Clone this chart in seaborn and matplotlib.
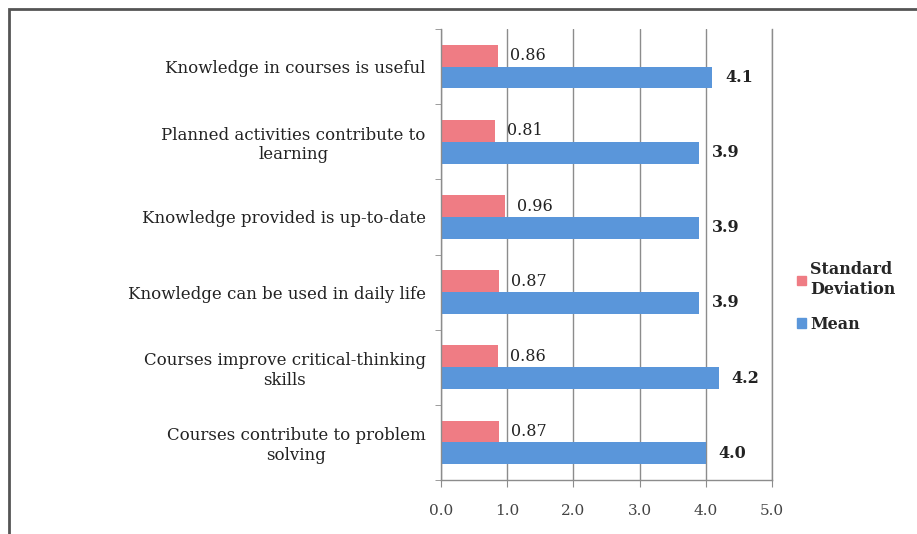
import pandas as pd
import matplotlib.pyplot as plt
import matplotlib.patches as mpatches
import seaborn as sns

# Datos
categorias = [
    'Knowledge in courses is useful',
    'Planned activities contribute to learning',
    'Knowledge provided is up-to-date',
    'Knowledge can be used in daily life',
    'Courses improve critical-thinking skills',
    'Courses contribute to problem solving',
]
etiquetas = [
    'Knowledge in courses is useful',
    'Planned activities contribute to\nlearning',
    'Knowledge provided is up-to-date',
    'Knowledge can be used in daily life',
    'Courses improve critical-thinking\nskills',
    'Courses contribute to problem\nsolving',
]
desviacion = [0.86, 0.81, 0.96, 0.87, 0.86, 0.87]
media = [4.1, 3.9, 3.9, 3.9, 4.2, 4.0]
series = ['Standard Deviation', 'Mean']
etiquetas_leyenda = ['Standard\nDeviation', 'Mean']
colores = ['#EF7C84', '#5A96DA']
ticks_x = [0, 1, 2, 3, 4, 5]

df = pd.DataFrame({
    'item': categorias * 2,
    'serie': [series[0]] * len(categorias) + [series[1]] * len(categorias),
    'valor': desviacion + media,
})

sns.set_style('white')
plt.rcParams['font.family'] = ['DejaVu Serif', 'Liberation Serif']

fig = plt.figure(figsize=(9.17, 5.34), dpi=100)
ax = fig.add_axes([441 / 917, 1 - 480 / 534, (772 - 441) / 917, (480 - 29) / 534])

sns.barplot(data=df, y='item', x='valor', hue='serie', hue_order=series,
            order=categorias, palette=colores, orient='h', width=0.58,
            saturation=1, legend=False, linewidth=0, ax=ax)

# Etiquetas de valores
ax.bar_label(ax.containers[0], labels=[f'{v:.2f}' for v in desviacion],
             padding=9, fontsize=11.5, color='#222222')
ax.bar_label(ax.containers[1], labels=[f'{v:.1f}' for v in media],
             padding=9, fontsize=11.5, fontweight='bold', color='#222222')

ax.set_xlim(0, 5)
ax.set_ylim(len(categorias) - 0.5, -0.5)
ax.set_xticks(ticks_x)
ax.set_xticklabels([f'{t:.1f}' for t in ticks_x])
ax.set_yticks(range(len(categorias)))
ax.set_yticklabels(etiquetas, multialignment='center')
ax.set_yticks([i - 0.5 for i in range(len(categorias) + 1)], minor=True)
ax.set_xlabel('')
ax.set_ylabel('')

ax.xaxis.grid(True, color='#8c8c8c', linewidth=1)
ax.set_axisbelow(True)
ax.spines['top'].set_visible(False)
for lado in ['left', 'bottom', 'right']:
    ax.spines[lado].set_color('#8c8c8c')
    ax.spines[lado].set_linewidth(1)

ax.tick_params(axis='x', bottom=True, length=5, color='#8c8c8c', pad=12,
               labelsize=11, labelcolor='#444444')
ax.tick_params(axis='y', which='major', left=False, right=False, length=0,
               pad=11, labelsize=12, labelcolor='#222222')
ax.tick_params(axis='y', which='minor', left=True, right=False, length=4,
               color='#8c8c8c')

manejadores = [mpatches.Patch(color=c) for c in colores]
fig.legend(manejadores, etiquetas_leyenda, loc='upper left',
           bbox_to_anchor=(783 / 917, 1 - 247 / 534), frameon=False,
           handlelength=0.55, handleheight=0.55, handletextpad=0.25,
           labelspacing=1.1, prop={'size': 11.5, 'weight': 'bold'})

# Marco exterior
marco = mpatches.Rectangle((9 / 917, -0.1), 1.1, 1.1 - 9 / 534,
                           transform=fig.transFigure, fill=False,
                           edgecolor='#555555', linewidth=2)
fig.add_artist(marco)

fig.savefig('out.png', dpi=100)
